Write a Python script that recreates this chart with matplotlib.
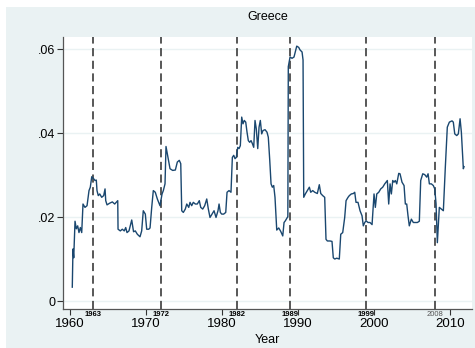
import matplotlib
matplotlib.use('Agg')
import matplotlib.pyplot as plt
from matplotlib.patches import Rectangle
import matplotlib.transforms as mtransforms

plt.rcParams['font.family'] = ['Liberation Sans', 'DejaVu Sans']

# Greece series (year, value)
years = [
    1960.30, 1960.39, 1960.49, 1960.66, 1960.83, 1961.01, 1961.18, 1961.36, 1961.54, 1961.71,
    1961.97, 1962.24, 1962.50, 1962.67, 1962.86, 1963.12, 1963.29, 1963.46, 1963.55, 1963.72,
    1963.91, 1964.17, 1964.43, 1964.61, 1964.70, 1964.87, 1965.22, 1965.57, 1965.88, 1966.09,
    1966.28, 1966.32, 1966.62, 1966.88, 1967.14, 1967.33, 1967.50, 1967.76, 1968.12, 1968.36,
    1968.59, 1968.86, 1969.21, 1969.43, 1969.64, 1969.91, 1970.09, 1970.36, 1970.53, 1970.75,
    1970.96, 1971.22, 1971.49, 1971.84, 1972.11, 1972.28, 1972.50, 1972.63, 1972.89, 1973.16,
    1973.51, 1973.86, 1974.12, 1974.38, 1974.57, 1974.70, 1974.91, 1975.17, 1975.36, 1975.62,
    1975.79, 1976.01, 1976.22, 1976.49, 1976.75, 1977.01, 1977.20, 1977.46, 1977.72, 1977.99,
    1978.20, 1978.42, 1978.68, 1978.95, 1979.21, 1979.47, 1979.61, 1979.78, 1979.96, 1980.22,
    1980.49, 1980.66, 1980.92, 1981.18, 1981.36, 1981.54, 1981.71, 1981.88, 1982.07, 1982.24,
    1982.41, 1982.59, 1982.76, 1982.93, 1983.12, 1983.29, 1983.46, 1983.64, 1983.82, 1983.99,
    1984.17, 1984.34, 1984.51, 1984.70, 1984.87, 1985.04, 1985.22, 1985.39, 1985.66, 1985.92,
    1986.09, 1986.28, 1986.45, 1986.62, 1986.80, 1986.97, 1987.14, 1987.20, 1987.46, 1987.72,
    1987.99, 1988.16, 1988.33, 1988.59, 1988.66, 1988.72, 1988.95, 1989.21, 1989.47, 1989.64,
    1989.83, 1990.09, 1990.26, 1990.53, 1990.66, 1990.75, 1990.96, 1991.22, 1991.49, 1991.67,
    1991.93, 1992.20, 1992.54, 1992.80, 1992.99, 1993.25, 1993.51, 1993.68, 1993.86, 1994.21,
    1994.47, 1994.64, 1994.83, 1995.09, 1995.43, 1995.62, 1995.88, 1996.14, 1996.32, 1996.58,
    1996.75, 1997.01, 1997.28, 1997.46, 1997.63, 1997.89, 1998.16, 1998.42, 1998.59, 1998.78,
    1998.95, 1999.21, 1999.47, 1999.74, 2000.00, 2000.17, 2000.36, 2000.62, 2000.88, 2001.14,
    2001.41, 2001.58, 2001.75, 2001.93, 2002.11, 2002.28, 2002.46, 2002.63, 2002.80, 2002.99,
    2003.25, 2003.42, 2003.68, 2003.95, 2004.12, 2004.30, 2004.47, 2004.64, 2004.91, 2005.17,
    2005.43, 2005.70, 2005.96, 2006.14, 2006.41, 2006.67, 2006.93, 2007.11, 2007.28, 2007.54,
    2007.80, 2007.99, 2008.16, 2008.33, 2008.59, 2008.86, 2009.12, 2009.38, 2009.64, 2009.91,
    2010.26, 2010.43, 2010.62, 2010.88, 2011.09, 2011.32, 2011.49, 2011.67, 2011.75, 2011.84,
]
values = [
    .0033, .0124, .0103, .0190, .0172, .0179, .0163, .0175, .0163, .0231,
    .0223, .0227, .0263, .0271, .0296, .0291, .0287, .0288, .0263, .0251,
    .0255, .0247, .0251, .0267, .0239, .0229, .0233, .0236, .0231, .0235,
    .0239, .0171, .0167, .0171, .0167, .0175, .0163, .0167, .0193, .0165,
    .0167, .0159, .0153, .0167, .0215, .0207, .0171, .0171, .0174, .0223,
    .0263, .0259, .0243, .0227, .0255, .0263, .0279, .0368, .0342, .0315,
    .0311, .0312, .0331, .0335, .0327, .0215, .0211, .0219, .0231, .0223,
    .0235, .0227, .0235, .0231, .0231, .0239, .0223, .0219, .0227, .0243,
    .0219, .0199, .0207, .0215, .0199, .0215, .0231, .0211, .0207, .0207,
    .0211, .0259, .0263, .0259, .0342, .0347, .0339, .0342, .0366, .0363,
    .0370, .0438, .0422, .0430, .0426, .0402, .0382, .0378, .0382, .0375,
    .0366, .0430, .0410, .0363, .0414, .0430, .0398, .0406, .0408, .0402,
    .0390, .0335, .0279, .0271, .0275, .0247, .0187, .0169, .0174, .0166,
    .0155, .0187, .0191, .0199, .0200, .0558, .0581, .0578, .0581, .0593,
    .0607, .0604, .0598, .0593, .0574, .0247, .0255, .0263, .0271, .0259,
    .0263, .0259, .0256, .0277, .0256, .0251, .0247, .0147, .0143, .0143,
    .0142, .0103, .0100, .0102, .0100, .0159, .0163, .0199, .0239, .0247,
    .0251, .0255, .0256, .0259, .0235, .0235, .0215, .0203, .0179, .0187,
    .0191, .0187, .0187, .0182, .0255, .0223, .0255, .0259, .0267, .0271,
    .0279, .0283, .0287, .0231, .0279, .0255, .0287, .0283, .0287, .0279,
    .0304, .0303, .0283, .0275, .0231, .0231, .0203, .0179, .0195, .0187,
    .0187, .0187, .0190, .0287, .0303, .0301, .0295, .0303, .0279, .0279,
    .0275, .0267, .0231, .0139, .0223, .0219, .0215, .0319, .0414, .0426,
    .0429, .0426, .0398, .0394, .0398, .0434, .0402, .0342, .0315, .0320,
]

break_years = [1963, 1972, 1982, 1989, 1999, 2008]
x_ticks = [1960, 1970, 1980, 1990, 2000, 2010]
y_ticks = [0, 0.02, 0.04, 0.06]
y_tick_labels = ['0', '.02', '.04', '.06']

BG = '#eaf2f3'
LINE = '#1a476f'

fig = plt.figure(figsize=(4.75, 3.48), dpi=100, facecolor='white')
fig.patches.append(Rectangle((0.0126, 0), 0.9874, 0.98, transform=fig.transFigure,
                             facecolor=BG, edgecolor='none', zorder=-1))

ax = fig.add_axes([0.1333, 0.1129, 0.8604, 0.7799])
ax.set_zorder(1)
ax.set_facecolor('white')

ax.plot(years, values, color=LINE, lw=1.0, zorder=3)
for yr in break_years:
    ax.axvline(yr, color='#4a4a4a', lw=1.3, ls=(0, (4.5, 2.5)), zorder=2)

ax.set_xlim(1959.12, 2012.89)
ax.set_ylim(-0.00183, 0.0628)
ax.set_xticks(x_ticks)
ax.set_yticks(y_ticks)
ax.set_yticklabels(y_tick_labels)
ax.grid(axis='y', color=BG, lw=1.0, zorder=1)
ax.grid(axis='x', visible=False)

for side in ['top', 'right']:
    ax.spines[side].set_visible(False)
for side in ['left', 'bottom']:
    ax.spines[side].set_color('#555555')
    ax.spines[side].set_linewidth(0.9)

ax.tick_params(axis='x', length=4, width=0.8, color='#333333', pad=3, labelsize=9.5)
ax.tick_params(axis='y', length=4, width=0.8, color='#333333', pad=1.5, labelsize=9)

# break-year labels just under the axis
trans = mtransforms.blended_transform_factory(ax.transData, ax.transAxes)
for yr in break_years:
    is_last = yr == break_years[-1]
    ax.text(yr, -0.02, str(yr), transform=trans, ha='center', va='center',
            fontsize=5.5, fontweight='normal' if is_last else 'bold',
            color='#555555' if is_last else 'black', clip_on=False, zorder=5)

fig.text(0.5632, 0.951, 'Greece', ha='center', va='center', fontsize=9)
fig.text(0.5632, 0.022, 'Year', ha='center', va='center', fontsize=9)

fig.savefig('out.png', dpi=100, facecolor='white')
